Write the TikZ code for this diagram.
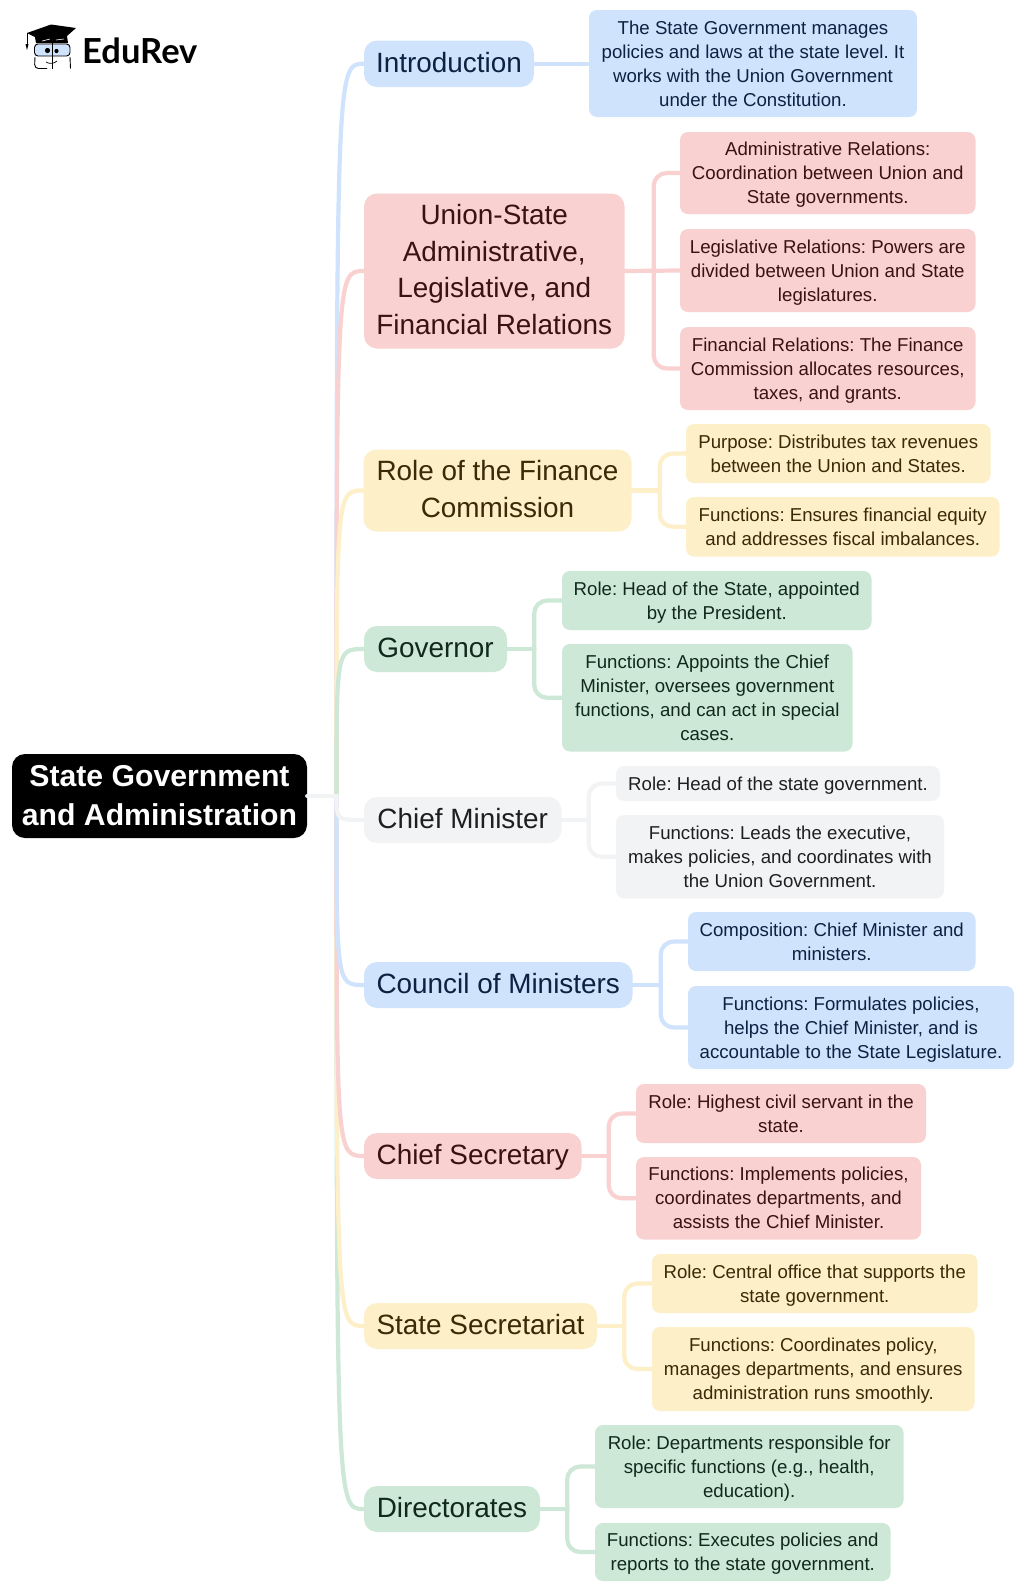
\documentclass[tikz,border=0pt]{standalone}
\usepackage{fontspec}
\setmainfont{Liberation Sans}
\newfontfamily\logofont{Lato}
\definecolor{bluef}{HTML}{D0E3FD}
\definecolor{pinkf}{HTML}{FAD1D1}
\definecolor{yellowf}{HTML}{FDEFC8}
\definecolor{greenf}{HTML}{CDE8D6}
\definecolor{grayf}{HTML}{F2F3F5}
\definecolor{bluet}{HTML}{0B2240}
\definecolor{pinkt}{HTML}{3A1212}
\definecolor{yellowt}{HTML}{3A2A08}
\definecolor{greent}{HTML}{10291A}
\definecolor{grayt}{HTML}{1E2020}
\frenchspacing
\newcommand{\boxtop}{}
\newcommand{\boxbot}{}
\tikzset{
  boxbase/.style={inner sep=0pt,align=center},
  rootbox/.style={boxbase,fill=black,text=white,rounded corners=13pt,font=\fontsize{30.2}{39}\selectfont\bfseries},
  branchbox/.style={boxbase,rounded corners=13pt,font=\frenchspacing\fontsize{27.9}{36.5}\selectfont\def\boxtop{\rule{0pt}{28pt}}\def\boxbot{\rule[-11pt]{0pt}{11pt}}},
  leafbox/.style={boxbase,rounded corners=8pt,font=\frenchspacing\fontsize{18.65}{24}\selectfont\def\boxtop{\rule{0pt}{20.4pt}}\def\boxbot{\rule[-7.2pt]{0pt}{7.2pt}}},
  blueb/.style={fill=bluef,text=bluet},
  pinkb/.style={fill=pinkf,text=pinkt},
  yellowb/.style={fill=yellowf,text=yellowt},
  greenb/.style={fill=greenf,text=greent},
  grayb/.style={fill=grayf,text=grayt},
  conn/.style={line width=4.2pt,line cap=round},
  elbow/.style={conn,rounded corners=13pt},
  logoline/.style={black,line width=0.9pt},
}
\newcommand{\mybox}[7]{%
  \pgfmathsetmacro{\bxw}{#5-#3}\pgfmathsetmacro{\bxh}{#6-#4}%
  \pgfmathsetmacro{\bxx}{(#3+#5)/2}\pgfmathsetmacro{\bxy}{(#4+#6)/2}%
  \node[#2,minimum width=\bxw pt,minimum height=\bxh pt] (#1) at (\bxx,\bxy) {\boxtop#7\boxbot};}
\newcommand{\trunk}[3]{\draw[conn,#1] (trunkstart) .. controls (336.5,#3) and (336.5,#3) .. (#2.west);}
\newcommand{\leafcon}[4]{%
  \draw[conn,#1] (#2.east) -- ++(#4,0);
  \draw[elbow,#1] (#2.east) ++(#4,0) |- (#3.west);}
\begin{document}
\begin{tikzpicture}[x=1pt,y=-1pt]
\useasboundingbox (0,0) rectangle (1024,1591);
\fill[white] (0,0) rectangle (1024,1591);
\mybox{root}{rootbox}{12}{754}{307}{838}{State Government\\and Administration}
\coordinate (trunkstart) at (336.5,796);
\mybox{intro}{branchbox,blueb}{364}{40.5}{534}{87}{Introduction}
\mybox{union}{branchbox,pinkb}{364}{193.5}{624.5}{348.5}{Union-State\\Administrative,\\Legislative, and\\Financial Relations}
\mybox{finance}{branchbox,yellowb}{363.5}{449.5}{631.5}{531.5}{Role of the Finance\\Commission}
\mybox{governor}{branchbox,greenb}{364}{626}{507}{672}{Governor}
\mybox{cm}{branchbox,grayb}{364}{797}{561.5}{843}{Chief Minister}
\mybox{council}{branchbox,blueb}{364}{962}{632.5}{1008}{Council of Ministers}
\mybox{secy}{branchbox,pinkb}{364}{1133}{581.5}{1179}{Chief Secretary}
\mybox{sect}{branchbox,yellowb}{364}{1303}{597}{1349}{State Secretariat}
\mybox{dir}{branchbox,greenb}{364}{1486}{540}{1532}{Directorates}
\mybox{l1}{leafbox,blueb}{589}{10}{917}{117}{The State Government manages\\policies and laws at the state level. It\\works with the Union Government\\under the Constitution.}
\mybox{l2}{leafbox,pinkb}{680}{132}{975.5}{214}{Administrative Relations:\\Coordination between Union and\\State governments.}
\mybox{l3}{leafbox,pinkb}{680}{229}{975.5}{312}{Legislative Relations: Powers are\\divided between Union and State\\legislatures.}
\mybox{l4}{leafbox,pinkb}{680}{327}{975.5}{410}{Financial Relations: The Finance\\Commission allocates resources,\\taxes, and grants.}
\mybox{l5}{leafbox,yellowb}{686}{424}{990.5}{483}{Purpose: Distributes tax revenues\\between the Union and States.}
\mybox{l6}{leafbox,yellowb}{686}{497}{999.5}{556.5}{Functions: Ensures financial equity\\and addresses fiscal imbalances.}
\mybox{l7}{leafbox,greenb}{562}{571}{871.5}{630}{Role: Head of the State, appointed\\by the President.}
\mybox{l8}{leafbox,greenb}{562}{644}{852.5}{751.5}{Functions: Appoints the Chief\\Minister, oversees government\\functions, and can act in special\\cases.}
\mybox{l9}{leafbox,grayb}{616}{766}{940}{801}{Role: Head of the state government.}
\mybox{l10}{leafbox,grayb}{616}{815}{944}{898.5}{Functions: Leads the executive,\\makes policies, and coordinates with\\the Union Government.}
\mybox{l11}{leafbox,blueb}{688}{912}{975.5}{971}{Composition: Chief Minister and\\ministers.}
\mybox{l12}{leafbox,blueb}{688}{986}{1014}{1069}{Functions: Formulates policies,\\helps the Chief Minister, and is\\accountable to the State Legislature.}
\mybox{l13}{leafbox,pinkb}{636}{1084}{926}{1143}{Role: Highest civil servant in the\\state.}
\mybox{l14}{leafbox,pinkb}{636}{1157}{921}{1239.5}{Functions: Implements policies,\\coordinates departments, and\\assists the Chief Minister.}
\mybox{l15}{leafbox,yellowb}{652}{1254}{977.5}{1313}{Role: Central office that supports the\\state government.}
\mybox{l16}{leafbox,yellowb}{652}{1327}{974.5}{1411}{Functions: Coordinates policy,\\manages departments, and ensures\\administration runs smoothly.}
\mybox{l17}{leafbox,greenb}{595}{1425}{903.5}{1508}{Role: Departments responsible for\\specific functions (e.g., health,\\education).}
\mybox{l18}{leafbox,greenb}{595}{1523}{890.5}{1581}{Functions: Executes policies and\\reports to the state government.}
\trunk{greenf}{dir}{1509}
\trunk{bluef}{intro}{64}
\trunk{yellowf}{sect}{1326}
\trunk{pinkf}{union}{271}
\trunk{pinkf}{secy}{1155.5}
\trunk{yellowf}{finance}{490.5}
\trunk{bluef}{council}{985}
\trunk{greenf}{governor}{649}
\trunk{grayf}{cm}{820}
\draw[conn,grayf] (root.east) -- (trunkstart);
\draw[conn,bluef] (intro.east) -- (l1.west |- intro.east);
\leafcon{pinkf}{union}{l2}{29}
\draw[conn,pinkf] (union.east) -- (l3.west);
\leafcon{pinkf}{union}{l4}{29}
\leafcon{yellowf}{finance}{l5}{28}
\leafcon{yellowf}{finance}{l6}{28}
\leafcon{greenf}{governor}{l7}{27}
\leafcon{greenf}{governor}{l8}{27}
\leafcon{grayf}{cm}{l9}{27}
\leafcon{grayf}{cm}{l10}{27}
\leafcon{bluef}{council}{l11}{28}
\leafcon{bluef}{council}{l12}{28}
\leafcon{pinkf}{secy}{l13}{27}
\leafcon{pinkf}{secy}{l14}{27}
\leafcon{yellowf}{sect}{l15}{27}
\leafcon{yellowf}{sect}{l16}{27}
\leafcon{greenf}{dir}{l17}{27}
\leafcon{greenf}{dir}{l18}{27}
% logo
\node[anchor=west,inner sep=0pt,font=\fontsize{34.5}{34.5}\selectfont\logofont\bfseries] (logo) at (82,51) {EduRev};
\fill[black] (27,33) -- (51,24.5) -- (76,28) -- (67,36) -- (68,43) -- (36,43) -- (35,37) -- cycle;
\draw[white,line width=0.6pt] (42,41) -- (50,39) (56,40) -- (64,39);
\draw[logoline] (27,33) -- (27,45);
\fill[black] (25.5,44) -- (28.5,44) -- (27,50) -- cycle;
\draw[logoline,fill=bluef,rounded corners=3.5pt] (34.5,44) rectangle (70,56);
\draw[logoline,rounded corners=4pt] (35,57) -- (34.5,68.5) -- (47,68.5);
\draw[logoline,rounded corners=4pt] (70,57) -- (70.5,68.5);
\draw[logoline] (52.5,40) -- (52.5,69);
\draw[logoline,line width=0.7pt] (46,62) .. controls (49,64) and (54,64) .. (57,61);
\fill[black] (47.5,50.5) circle (2.6pt) (56.5,51) circle (2.1pt);
\end{tikzpicture}
\end{document}
